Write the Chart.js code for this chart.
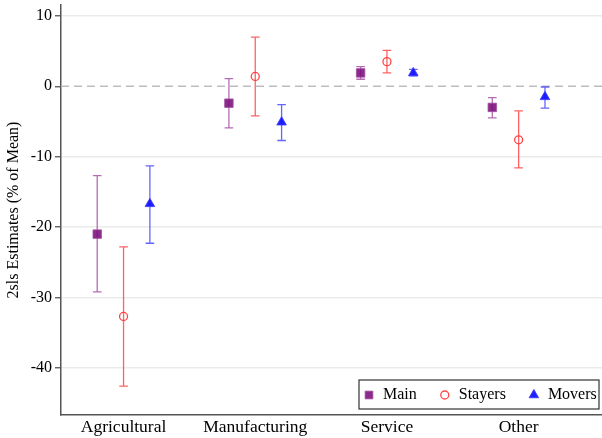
<!DOCTYPE html>
<html>
<head>
<meta charset="utf-8">
<script src="https://cdn.jsdelivr.net/npm/chart.js@4/dist/chart.umd.min.js"></script>
<style>
  html, body { margin: 0; padding: 0; background: #fff; }
  #wrap { width: 602px; height: 438px; }
</style>
</head>
<body>
<div id="wrap"><canvas id="c" width="602" height="438"></canvas></div>
<script>
// Sector categories and y-axis tick values
const categories = ['Agricultural', 'Manufacturing', 'Service', 'Other'];
const yTicks = [10, 0, -10, -20, -30, -40];

// 2SLS point estimates and 95% confidence bounds (% of mean)
const mainEst = [-21.0, -2.4, 1.9, -3.0];
const mainLo  = [-29.2, -5.9, 1.0, -4.5];
const mainHi  = [-12.7,  1.1, 2.8, -1.6];

const stayersEst = [-32.7,  1.4, 3.5,  -7.6];
const stayersLo  = [-42.6, -4.2, 1.9, -11.6];
const stayersHi  = [-22.8,  7.0, 5.1,  -3.5];

const moversEst = [-16.7, -5.1, 1.9, -1.5];
const moversLo  = [-22.3, -7.7, 1.5, -3.1];
const moversHi  = [-11.3, -2.6, 2.4, -0.1];

// Horizontal dodge of each series within a category
const DODGE = { main: -0.2, stayers: 0, movers: 0.2 };

function toPoints(est, lo, hi, dodge) {
  return est.map((v, i) => ({ x: i + 1 + dodge, y: v, lo: lo[i], hi: hi[i] }));
}

const SERIF = 'Liberation Serif, Times New Roman, serif';

// Dashed zero reference line plus vertical CI whiskers with caps
const errorBars = {
  id: 'errorBars',
  beforeDatasetsDraw(chart) {
    const { ctx, chartArea, scales: { x, y } } = chart;
    ctx.save();
    const y0 = y.getPixelForValue(0);
    ctx.strokeStyle = '#bdbdbd';
    ctx.lineWidth = 1.5;
    ctx.setLineDash([8, 5]);
    ctx.beginPath();
    ctx.moveTo(chartArea.left, y0);
    ctx.lineTo(chartArea.right, y0);
    ctx.stroke();
    ctx.setLineDash([]);
    chart.data.datasets.forEach(ds => {
      ctx.strokeStyle = ds.errorColor;
      ctx.lineWidth = 1.3;
      ds.data.forEach(p => {
        const px = x.getPixelForValue(p.x);
        const pLo = y.getPixelForValue(p.lo);
        const pHi = y.getPixelForValue(p.hi);
        const cap = 4.3;
        ctx.beginPath();
        ctx.moveTo(px, pLo); ctx.lineTo(px, pHi);
        ctx.moveTo(px - cap, pLo); ctx.lineTo(px + cap, pLo);
        ctx.moveTo(px - cap, pHi); ctx.lineTo(px + cap, pHi);
        ctx.stroke();
      });
    });
    ctx.restore();
  }
};

// Boxed legend inside the lower-right corner of the plot
const boxedLegend = {
  id: 'boxedLegend',
  afterDraw(chart) {
    const { ctx, chartArea } = chart;
    const box = { x: chartArea.right - 243, y: chartArea.bottom - 35, w: 240, h: 29 };
    ctx.save();
    ctx.strokeStyle = '#333';
    ctx.lineWidth = 1.2;
    ctx.strokeRect(box.x, box.y, box.w, box.h);
    ctx.font = '16px ' + SERIF;
    ctx.textBaseline = 'middle';
    ctx.textAlign = 'left';
    const cy = box.y + box.h / 2 + 0.5;
    let mx = box.x + 10;
    chart.data.datasets.forEach(ds => {
      ctx.fillStyle = ds.backgroundColor;
      ctx.strokeStyle = ds.borderColor;
      ctx.lineWidth = ds.borderWidth;
      Chart.helpers.drawPoint(ctx, {
        pointStyle: ds.pointStyle,
        radius: ds.legendRadius,
        rotation: 0,
        borderWidth: ds.borderWidth
      }, mx, cy);
      ctx.fillStyle = '#000';
      const tx = mx + 14;
      ctx.fillText(ds.label, tx, cy);
      mx = tx + ctx.measureText(ds.label).width + 28;
    });
    ctx.restore();
  }
};

new Chart(document.getElementById('c'), {
  type: 'scatter',
  data: {
    datasets: [
      {
        label: 'Main',
        data: toPoints(mainEst, mainLo, mainHi, DODGE.main),
        pointStyle: 'rect',
        pointRadius: 6,
        legendRadius: 5.5,
        backgroundColor: 'rgba(125,20,125,0.9)',
        borderColor: 'rgba(160,80,160,0.8)',
        borderWidth: 1,
        errorColor: 'rgba(155,60,155,0.75)'
      },
      {
        label: 'Stayers',
        data: toPoints(stayersEst, stayersLo, stayersHi, DODGE.stayers),
        pointStyle: 'circle',
        pointRadius: 4,
        legendRadius: 4,
        backgroundColor: 'rgba(255,255,255,0)',
        borderColor: 'rgba(255,60,60,0.95)',
        borderWidth: 1.3,
        errorColor: 'rgba(255,70,70,0.85)'
      },
      {
        label: 'Movers',
        data: toPoints(moversEst, moversLo, moversHi, DODGE.movers),
        pointStyle: 'triangle',
        pointRadius: 5.5,
        legendRadius: 5.5,
        backgroundColor: 'rgba(20,20,255,0.95)',
        borderColor: 'rgba(60,60,255,0.9)',
        borderWidth: 1,
        errorColor: 'rgba(50,50,255,0.75)'
      }
    ]
  },
  options: {
    responsive: false,
    animation: false,
    events: [],
    devicePixelRatio: 1,
    layout: { autoPadding: false, padding: { left: 0, right: 0, top: 5, bottom: 0 } },
    plugins: { legend: { display: false }, tooltip: { enabled: false } },
    scales: {
      x: {
        type: 'linear',
        min: 0.525,
        max: 4.633,
        afterBuildTicks(s) { s.ticks = categories.map((c, i) => ({ value: i + 1 })); },
        afterFit(s) { s.height = 23; s.paddingLeft = 0; s.paddingRight = 0; },
        border: { display: true, color: '#555', width: 1.5 },
        grid: { display: false, drawTicks: false },
        ticks: {
          callback: v => categories[Math.round(v) - 1],
          color: '#000',
          font: { family: SERIF, size: 17.5 },
          padding: 2,
          maxRotation: 0,
          autoSkip: false
        }
      },
      y: {
        min: -46.7,
        max: 11.55,
        afterBuildTicks(s) { s.ticks = yTicks.map(v => ({ value: v })); },
        afterFit(s) { s.width = 61; s.paddingTop = 0; s.paddingBottom = 0; },
        border: { display: true, color: '#555', width: 1.5 },
        grid: {
          color: c => (c.tick && c.tick.value === 0) ? 'rgba(0,0,0,0)' : '#ebebeb',
          lineWidth: 1.5,
          drawTicks: true,
          tickLength: 6,
          tickColor: '#555',
          tickWidth: 1.3
        },
        ticks: {
          callback: v => String(v),
          color: '#000',
          font: { family: SERIF, size: 16 },
          padding: 3
        },
        title: {
          display: true,
          text: '2sls Estimates (% of Mean)',
          color: '#000',
          font: { family: SERIF, size: 16 },
          padding: { top: 4, bottom: 0 }
        }
      }
    }
  },
  plugins: [errorBars, boxedLegend]
});
</script>
</body>
</html>
